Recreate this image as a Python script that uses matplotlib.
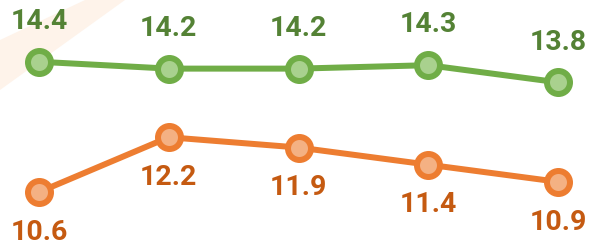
import numpy as np
import matplotlib.pyplot as plt
from matplotlib.patches import Polygon

# Values
points = [0, 1, 2, 3, 4]
green_vals = [14.4, 14.2, 14.2, 14.3, 13.8]
orange_vals = [10.6, 12.2, 11.9, 11.4, 10.9]
green_labels = ["14.4", "14.2", "14.2", "14.3", "13.8"]
orange_labels = ["10.6", "12.2", "11.9", "11.4", "10.9"]

W, H = 592, 246
fig = plt.figure(figsize=(W / 100, H / 100), dpi=100)
ax = fig.add_axes([0, 0, 1, 1], zorder=2)
ax.patch.set_alpha(0)

# faint watermark band in the top-left corner (behind everything)
band = Polygon([(0, H - 40), (85, H), (125, H), (0, H - 90)],
               closed=True, facecolor="#FEF3EA", edgecolor="none",
               transform=None, zorder=-5)
fig.patches.append(band)

lw = 6 * 0.72
ms = 23 * 0.72
mew = 6 * 0.72

ax.plot(points, green_vals, color="#70AD47", lw=lw, marker="o", ms=ms,
        mfc="#A9D18E", mec="#70AD47", mew=mew, zorder=3)
ax.plot(points, orange_vals, color="#ED7D31", lw=lw, marker="o", ms=ms,
        mfc="#F4B183", mec="#ED7D31", mew=mew, zorder=3)

font = dict(family="Roboto", weight="bold", fontsize=20.5)
for x, v, t in zip(points, green_vals, green_labels):
    ax.annotate(t, (x, v), xytext=(0, 29), textcoords="offset points",
                ha="center", va="center", color="#548235", **font)
for x, v, t in zip(points, orange_vals, orange_labels):
    ax.annotate(t, (x, v), xytext=(0, -29), textcoords="offset points",
                ha="center", va="center", color="#C55A11", **font)

ax.set_xlim(-0.30, 4.26)
ax.set_ylim(9.03, 16.20)
ax.axis("off")

fig.savefig("out.png", dpi=100)
